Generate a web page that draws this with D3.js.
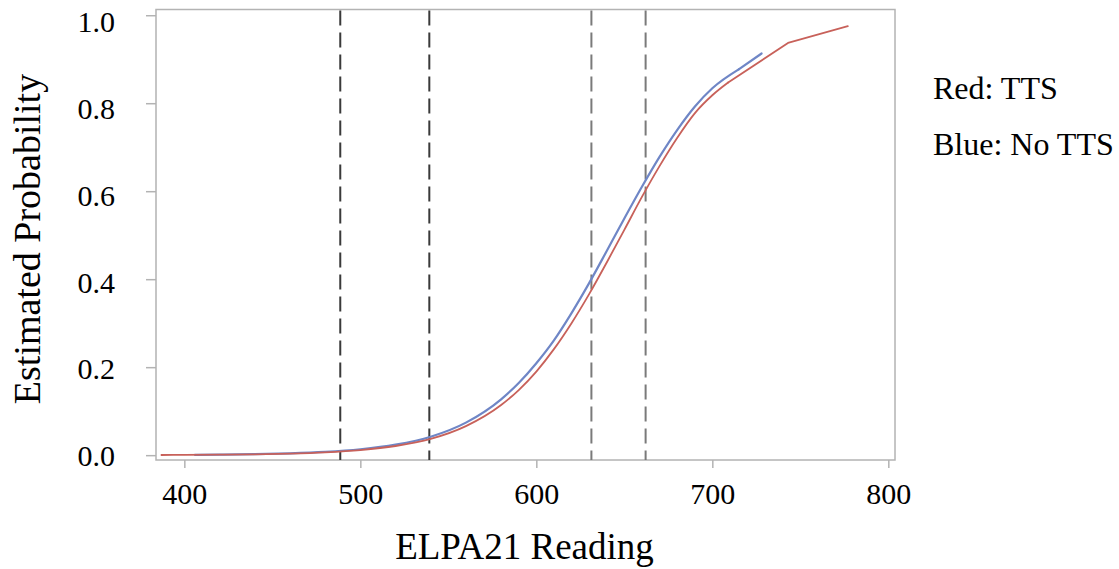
<!DOCTYPE html>
<html><head><meta charset="utf-8">
<script src="https://cdn.jsdelivr.net/npm/d3@7"></script>
<style>
html,body{margin:0;padding:0;background:#fff;}
text{font-family:"Liberation Serif","Times New Roman",serif;fill:#000;}
</style></head>
<body>
<svg id="chart" width="1119" height="569"></svg>
<script>
// ---- data ----
const redX  = [387, 400, 420, 440, 460, 480, 500, 520, 540, 560, 580, 590, 600, 610, 620, 630, 640, 650, 660, 670, 680, 690, 700, 709, 743, 777];
const redY  = [0.0004, 0.0006, 0.0011, 0.0019, 0.0035, 0.0064, 0.0115, 0.0208, 0.037, 0.066, 0.114, 0.148, 0.190, 0.241, 0.300, 0.366, 0.438, 0.512, 0.587, 0.657, 0.721, 0.777, 0.818, 0.847, 0.937, 0.975];
const blueX = [406, 420, 440, 460, 480, 500, 520, 540, 560, 580, 590, 600, 610, 620, 630, 640, 650, 660, 670, 680, 690, 700, 715, 728];
const blueY = [0.0008, 0.0013, 0.0023, 0.0041, 0.0074, 0.0134, 0.0239, 0.042, 0.074, 0.127, 0.164, 0.209, 0.261, 0.323, 0.391, 0.464, 0.538, 0.610, 0.678, 0.739, 0.792, 0.834, 0.877, 0.913];
// x from which each curve is drawn as straight segments (visible kinks)
const redKinkX = 709, blueKinkX = 715;
const cutX   = [488.6, 539.2, 631.3, 662.1];
const cutTone = ["dark", "dark", "light", "light"];
const xTicks = [400, 500, 600, 700, 800];
const yTicks = [0.0, 0.2, 0.4, 0.6, 0.8, 1.0];
const legendLabels = ["Red: TTS", "Blue: No TTS"];
const xTitle = "ELPA21 Reading";
const yTitle = "Estimated Probability";

// ---- layout ----
const svg = d3.select("#chart");
const L = 156, R = 895, T = 9.5, B = 460;
const x = d3.scaleLinear().domain([383.9, 803.8]).range([L, R]);
const y = d3.scaleLinear().domain([-0.011, 1.013]).range([B, T]);
const frameColor = "#b3b3b3";

// axes
const gx = svg.append("g").attr("transform", `translate(0,${B})`)
  .call(d3.axisBottom(x).tickValues(xTicks).tickSize(8).tickPadding(15).tickFormat(d3.format("d")));
gx.select(".domain").remove();
gx.selectAll(".tick line").attr("stroke", frameColor).attr("stroke-width", 1.5);
gx.selectAll(".tick text").attr("font-size", 30).attr("font-family", "Liberation Serif").attr("fill", "#000");

const gy = svg.append("g").attr("transform", `translate(${L},0)`)
  .call(d3.axisLeft(y).tickValues(yTicks).tickSize(10).tickPadding(31).tickFormat(d3.format(".1f")));
gy.select(".domain").remove();
gy.selectAll(".tick line").attr("stroke", frameColor).attr("stroke-width", 1.5);
gy.selectAll(".tick text").attr("font-size", 30).attr("font-family", "Liberation Serif").attr("fill", "#000")
  .attr("dy", d => (0.32 * 30 + 1 + 6 * d) + "px");

// frame
svg.append("rect").attr("x", L).attr("y", T).attr("width", R - L).attr("height", B - T)
  .attr("fill", "none").attr("stroke", frameColor).attr("stroke-width", 1.5);

// dashed cut lines
svg.append("g").selectAll("line").data(cutX).join("line")
  .attr("x1", d => x(d)).attr("x2", d => x(d))
  .attr("y1", T + 1).attr("y2", B)
  .attr("stroke", (d, i) => cutTone[i] === "dark" ? "#3a3a3a" : "#7a7a7a")
  .attr("stroke-width", 2)
  .attr("stroke-dasharray", "15,7");

// curves
const smooth = d3.line().x(d => x(d[0])).y(d => y(d[1])).curve(d3.curveMonotoneX);
const straight = d3.line().x(d => x(d[0])).y(d => y(d[1])).curve(d3.curveLinear);
function drawCurve(xs, ys, kink, color, width) {
  const pts = xs.map((v, i) => [v, ys[i]]);
  const g = svg.append("g").attr("fill", "none").attr("stroke", color)
    .attr("stroke-width", width).attr("stroke-linejoin", "round").attr("stroke-linecap", "round");
  g.append("path").datum(pts.filter(p => p[0] <= kink)).attr("d", smooth);
  g.append("path").datum(pts.filter(p => p[0] >= kink)).attr("d", straight);
}
drawCurve(blueX, blueY, blueKinkX, "#6f86c6", 2.2);
drawCurve(redX, redY, redKinkX, "#c8615a", 1.8);

// axis titles
svg.append("text").attr("x", (L + R) / 2 - 1).attr("y", 559).attr("text-anchor", "middle")
  .attr("font-size", 37).text(xTitle);
svg.append("text").attr("transform", `translate(40,239) rotate(-90)`).attr("text-anchor", "middle")
  .attr("font-size", 38).text(yTitle);

// legend text
svg.append("g").selectAll("text").data(legendLabels).join("text")
  .attr("x", 933).attr("y", (d, i) => 99 + i * 56)
  .attr("font-size", 32).text(d => d);
</script>
</body></html>
